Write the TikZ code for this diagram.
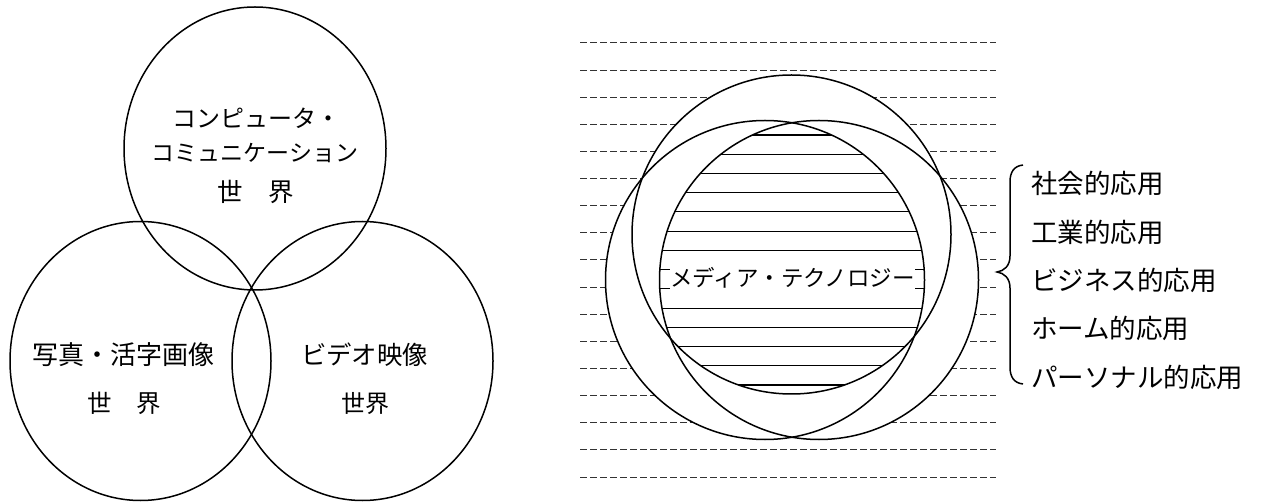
\documentclass[tikz,border=0pt]{standalone}
\usepackage{fontspec}
\setmainfont{Noto Sans CJK JP}
\begin{document}
\begin{tikzpicture}[x=1pt,y=-1pt,
  jp/.style={font=\fontsize{#1pt}{#1pt}\selectfont, text height=0.88*#1pt, text depth=0.12*#1pt, inner sep=0pt},
  ring/.style={draw=black, line width=1.5pt},
  dashline/.style={draw=black!80, line width=1pt, dash pattern=on 7pt off 3pt},
  hatch/.style={draw=black, line width=1.1pt},
  brace/.style={draw=black, line width=1.5pt}]
\useasboundingbox (0,0) rectangle (1269,502);

% ---------- left diagram ----------
\coordinate (cT) at (255,148.5);
\coordinate (cL) at (140.5,361);
\coordinate (cR) at (362.5,361);
\draw[ring] (cT) ellipse [x radius=131pt, y radius=141.5pt];
\draw[ring] (cL) ellipse [x radius=130.5pt, y radius=139.5pt];
\draw[ring] (cR) ellipse [x radius=130.5pt, y radius=139.5pt];

\node[jp=24] (t1) at (256,118) {コンピュータ・};
\node[jp=23] (t2) at (255,153) {コミュニケーション};
\node[jp=25.5] (t3) at (255.5,192) {世　界};
\node[jp=26] (l1) at (123,355) {写真・活字画像};
\node[jp=24.5] (l2) at (124,403) {世　界};
\node[jp=25.4] (r1) at (364.5,355) {ビデオ映像};
\node[jp=24] (r2) at (365,403) {世界};

% ---------- right diagram ----------
\foreach \i in {0,...,16}{
  \draw[dashline] (580,43+27.125*\i) -- (996,43+27.125*\i);
}
\coordinate (mT) at (791.5,234.5);
\coordinate (mL) at (765,280);
\coordinate (mR) at (819,280);
\fill[white] (mT) circle [radius=159.5pt] (mL) circle [radius=159.5pt] (mR) circle [radius=159.5pt];
\begin{scope}
  \clip (mT) circle [radius=159.5pt];
  \clip (mL) circle [radius=159.5pt];
  \clip (mR) circle [radius=159.5pt];
  \foreach \i in {0,...,13}{
    \draw[hatch] (600,135+19.23*\i) -- (990,135+19.23*\i);
  }
\end{scope}
\draw[ring] (mT) circle [radius=159.5pt];
\draw[ring] (mL) circle [radius=159.5pt];
\draw[ring] (mR) circle [radius=159.5pt];
\node[jp=22.5, fill=white, minimum height=30pt, inner xsep=0.5pt] (mt) at (792.5,278) {メディア・テクノロジー};

% ---------- brace and applications ----------
\draw[brace] (1023,165) .. controls (1014,166) and (1010,172) .. (1010,182) -- (1010,256)
  .. controls (1010,266) and (1004,271) .. (997,272)
  .. controls (1004,273) and (1010,278) .. (1010,288) -- (1010,367)
  .. controls (1010,377) and (1014,383) .. (1023,384);
\node[jp=26.5, anchor=west] (a1) at (1031,183) {社会的応用};
\node[jp=26.5, anchor=west] (a2) at (1031,232) {工業的応用};
\node[jp=26.5, anchor=west] (a3) at (1031,280) {ビジネス的応用};
\node[jp=26.5, anchor=west] (a4) at (1031,328) {ホーム的応用};
\node[jp=26.5, anchor=west] (a5) at (1031,377) {パーソナル的応用};
\end{tikzpicture}
\end{document}
